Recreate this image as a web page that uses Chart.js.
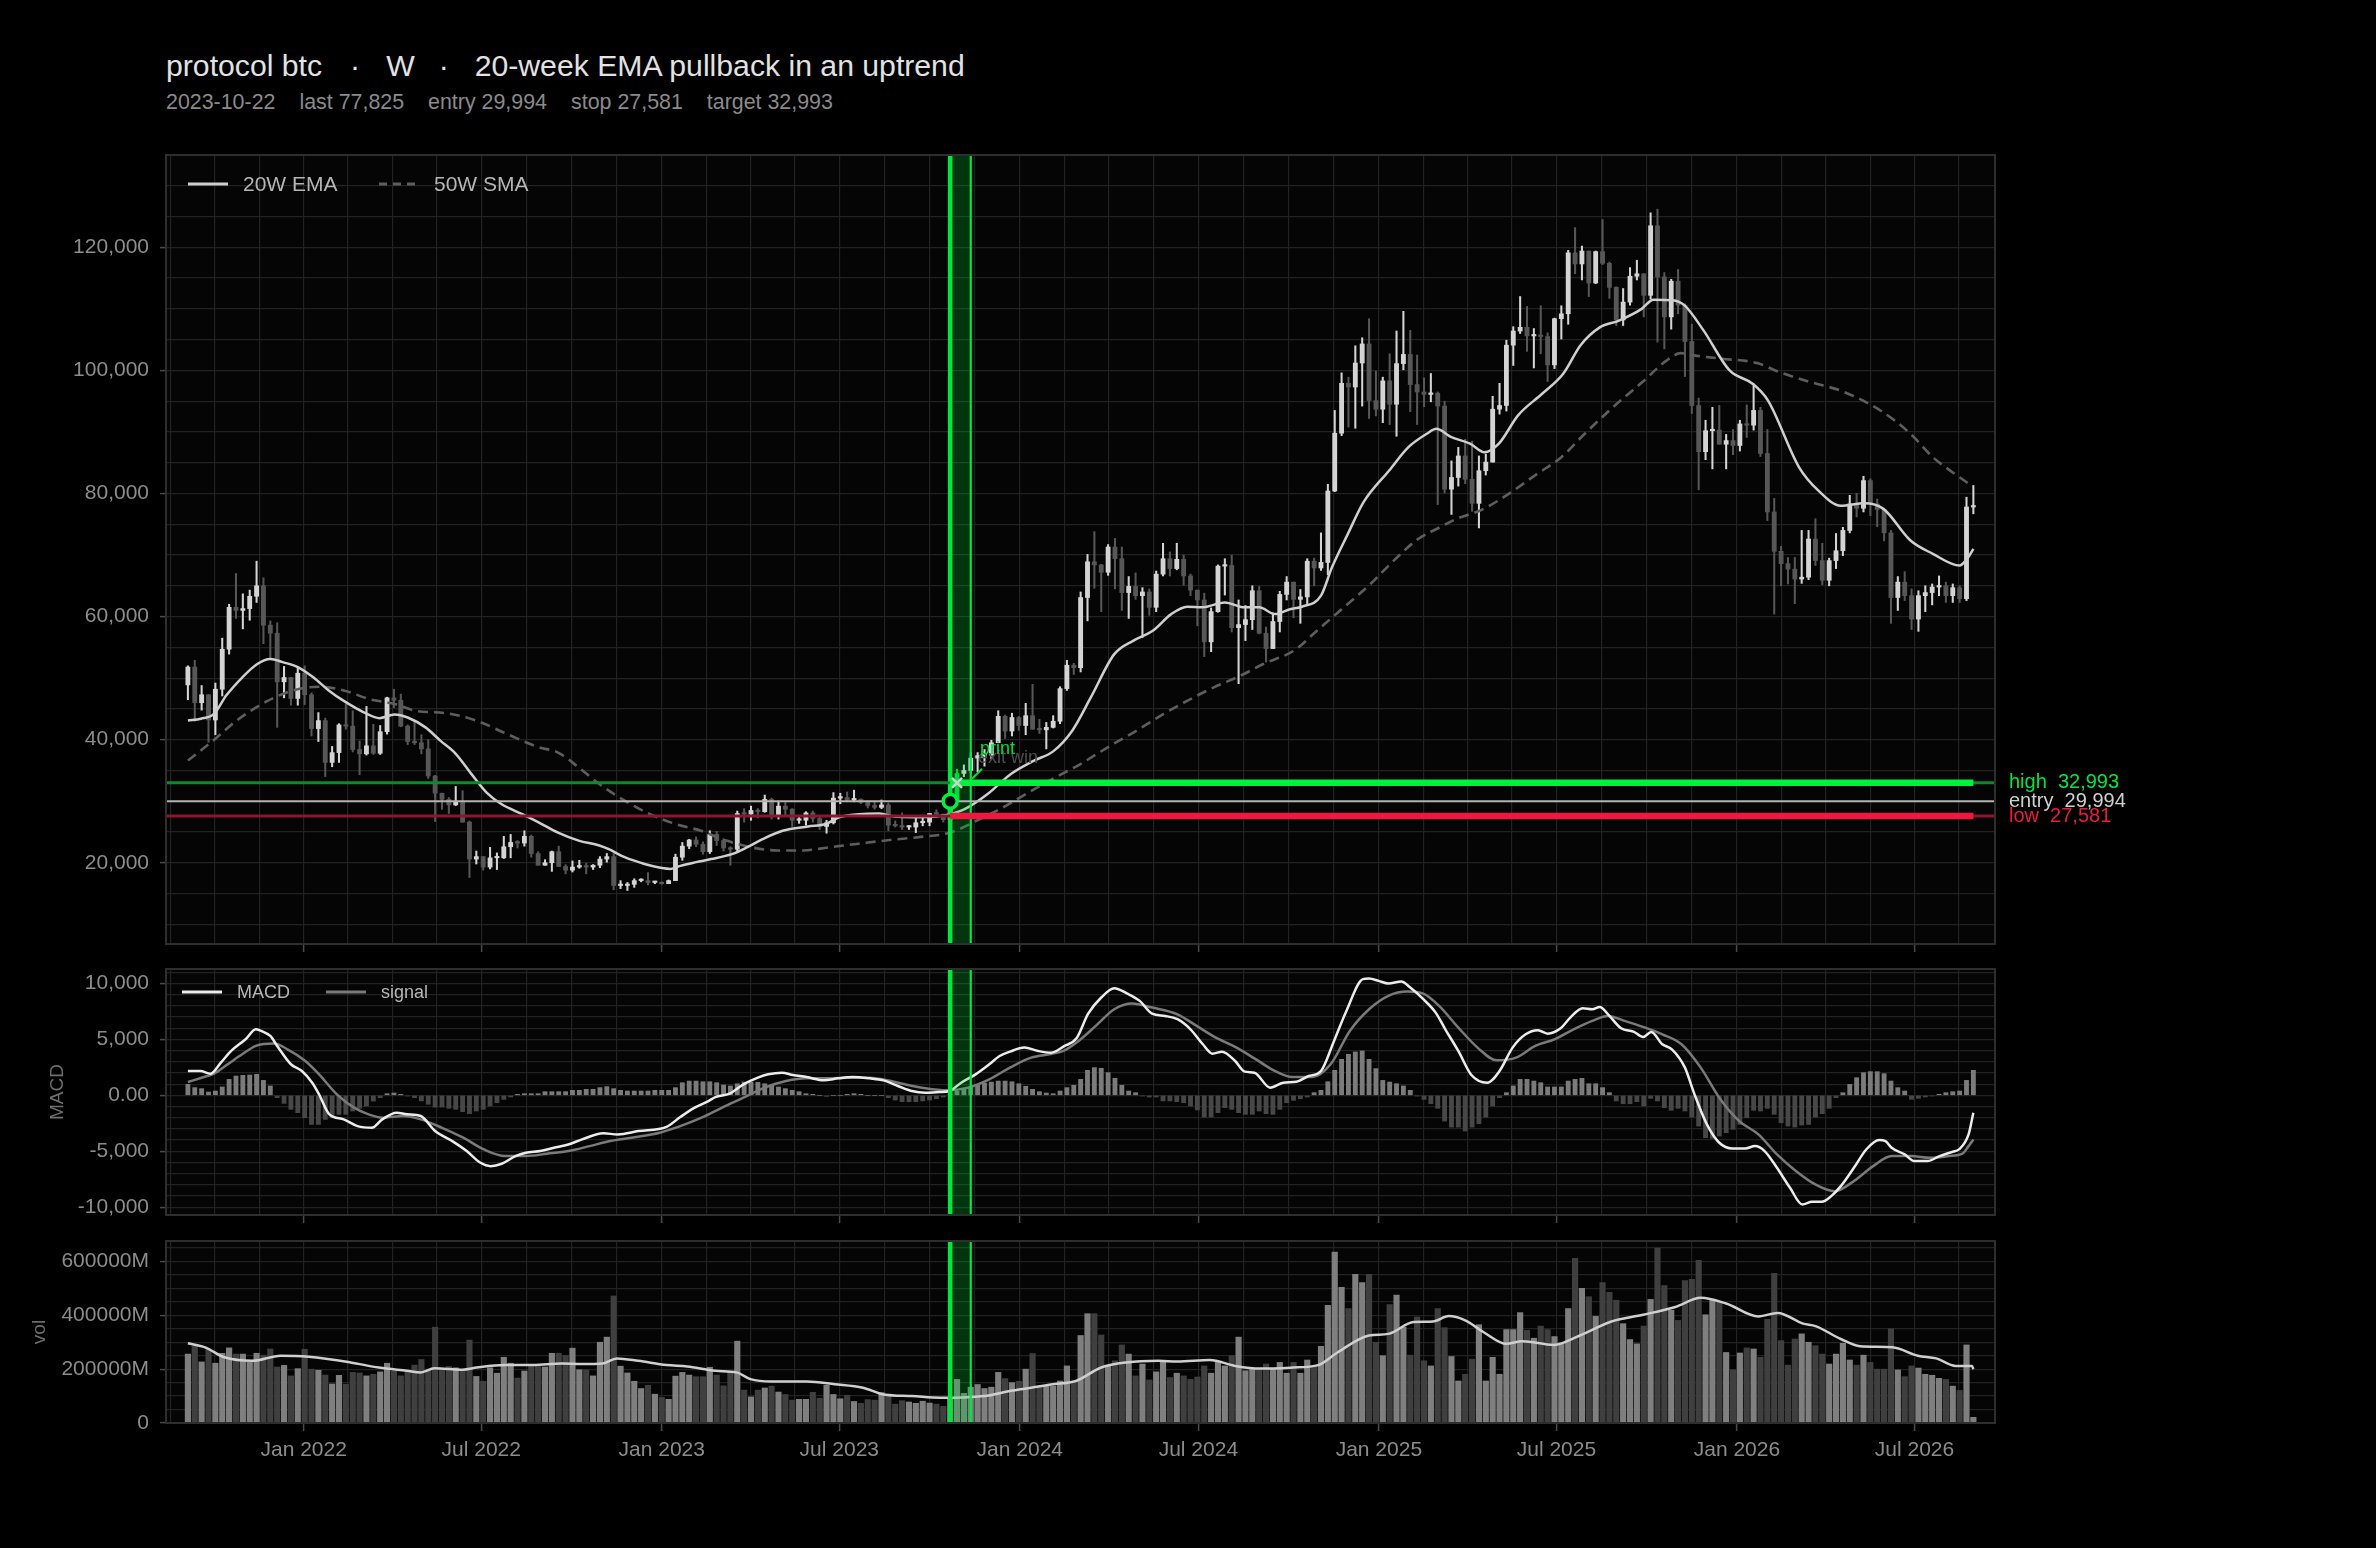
<!DOCTYPE html>
<html>
<head>
<meta charset="utf-8">
<script src="https://cdn.jsdelivr.net/npm/chart.js@4.4.1/dist/chart.umd.min.js"></script>
<style>
html, body { margin: 0; padding: 0; background: #000; }
body { width: 2376px; height: 1548px; position: relative; overflow: hidden; font-family: "Liberation Sans", Arial, sans-serif; }
#title { position: absolute; left: 166px; top: 51px; color: #e2e2e2; font-size: 30.2px; line-height: 30px; white-space: pre; }
#sub { position: absolute; left: 166px; top: 92px; color: #8a8a8a; font-size: 21.4px; line-height: 21px; white-space: pre; }
#title span, #sub span { display: inline-block; }
canvas { position: absolute; left: 0; }
</style>
</head>
<body>
<div id="title"></div>
<div id="sub"></div>
<canvas id="mainChart" width="2376" height="813" style="top:149px"></canvas>
<canvas id="macdChart" width="2376" height="268" style="top:965px"></canvas>
<canvas id="volChart" width="2376" height="262" style="top:1237px"></canvas>
<script>
// weekly candles, one per Sunday starting 2021-09-05 (prices in thousands)
const firstWeek = '2021-09-05';
const firstOpenK = 48.9;
const closeK = [
  51.8, 46.0, 47.3, 43.2, 48.2, 54.7, 61.5, 61.0, 61.3, 63.3,
  65.0, 58.6, 57.3, 49.4, 50.1, 46.7, 50.8, 47.3, 41.8, 43.1,
  36.3, 37.9, 42.4, 42.2, 38.4, 37.7, 39.0, 37.8, 41.3, 46.8,
  46.4, 42.2, 39.7, 39.5, 38.5, 34.1, 31.3, 30.3, 29.4, 29.9,
  26.6, 20.6, 21.0, 19.3, 20.8, 20.8, 22.6, 23.3, 23.2, 24.3,
  21.5, 19.6, 20.0, 21.8, 19.4, 18.8, 19.3, 19.4, 19.3, 19.6,
  20.6, 21.0, 16.3, 16.3, 16.5, 17.1, 17.1, 16.8, 16.8, 16.6,
  17.1, 20.9, 22.7, 23.7, 23.0, 21.8, 24.6, 23.6, 22.4, 22.2,
  28.0, 27.9, 28.5, 28.3, 30.3, 27.8, 29.2, 28.7, 26.9, 26.9,
  28.1, 27.2, 25.9, 26.5, 30.5, 30.6, 30.2, 30.3, 29.8, 29.3,
  29.0, 29.4, 26.1, 26.0, 25.8, 25.8, 26.5, 26.6, 28.0, 27.9,
  27.0, 29.994, 34.5, 35.0, 37.0, 37.4, 37.5, 39.5, 43.8, 41.4,
  43.6, 42.3, 43.9, 41.7, 41.6, 42.0, 43.0, 48.3, 52.1, 51.7,
  63.1, 68.9, 68.4, 67.2, 71.3, 69.4, 63.9, 64.9, 63.4, 64.0,
  61.5, 66.9, 69.4, 67.8, 69.3, 66.6, 64.3, 62.7, 55.9, 60.8,
  68.2, 68.3, 58.2, 58.7, 59.5, 64.2, 57.3, 54.8, 59.2, 63.6,
  65.6, 62.8, 63.2, 69.0, 67.9, 68.8, 80.4, 89.8, 97.9, 97.3,
  101.2, 104.3, 95.1, 93.7, 98.3, 94.5, 101.1, 102.6, 97.7, 96.5,
  96.1, 96.3, 94.2, 80.7, 82.6, 86.1, 82.3, 78.4, 83.7, 85.1,
  93.7, 94.3, 104.1, 106.4, 107.0, 105.6, 105.7, 105.5, 100.9, 108.4,
  109.2, 119.1, 117.3, 119.4, 114.2, 119.3, 117.4, 113.5, 108.2, 111.1,
  115.3, 115.7, 112.2, 123.5, 115.2, 108.7, 114.5, 110.6, 104.7, 94.3,
  86.8, 90.2, 90.3, 88.0, 88.6, 87.8, 91.3, 91.1, 93.5, 86.5,
  77.0, 70.6, 68.6, 67.7, 66.1, 66.4, 72.6, 69.1, 65.9, 69.1,
  70.7, 74.0, 78.3, 77.6, 82.1, 78.3, 77.4, 73.6, 63.1, 65.6,
  63.4, 59.6, 63.4, 63.9, 64.8, 65.0, 63.4, 64.7, 62.9, 77.8, 77.825
];
const highK = [
  52.0, 52.9, 48.8, 47.3, 49.2, 56.5, 62.0, 67.0, 63.7, 64.3,
  69.0, 66.3, 59.3, 59.0, 51.9, 50.1, 51.9, 52.0, 47.6, 44.4,
  43.5, 38.9, 42.6, 45.8, 44.7, 39.8, 45.4, 42.5, 42.3, 46.9,
  48.2, 47.4, 42.4, 42.9, 40.8, 40.0, 34.2, 31.3, 30.6, 32.4,
  31.7, 26.8, 21.9, 21.0, 22.5, 21.6, 24.3, 24.6, 23.6, 25.2,
  24.5, 21.8, 20.5, 21.9, 22.7, 19.7, 20.3, 20.4, 19.9, 19.7,
  21.0, 21.5, 21.5, 17.1, 16.8, 17.4, 17.4, 18.4, 17.0, 16.9,
  17.2, 21.4, 23.3, 23.8, 24.2, 23.4, 25.2, 25.1, 23.9, 22.6,
  28.4, 28.8, 29.2, 28.8, 31.0, 30.5, 30.0, 29.8, 28.8, 27.6,
  28.3, 28.4, 27.4, 26.9, 31.4, 31.3, 31.5, 31.8, 30.4, 30.0,
  29.9, 30.2, 29.7, 26.8, 28.1, 26.0, 27.4, 27.5, 28.0, 28.6,
  27.9, 30.3, 35.2, 35.9, 37.9, 37.9, 38.4, 39.9, 44.7, 44.0,
  44.3, 43.8, 45.9, 49.0, 43.3, 42.8, 43.9, 48.6, 52.9, 52.4,
  64.0, 70.1, 73.8, 68.5, 71.7, 72.7, 71.3, 66.5, 67.1, 64.7,
  64.5, 67.4, 71.9, 70.5, 71.9, 70.0, 66.9, 64.3, 63.8, 61.4,
  68.4, 69.4, 70.0, 62.7, 61.8, 65.0, 64.9, 58.3, 60.6, 64.1,
  66.5, 65.6, 64.4, 69.4, 69.5, 73.6, 81.5, 93.5, 99.6, 98.9,
  104.0, 105.3, 108.4, 99.9, 98.9, 102.7, 106.4, 109.6, 106.5, 102.5,
  98.8, 99.5, 96.5, 95.0, 85.3, 87.5, 88.8, 88.5, 86.1, 86.4,
  95.8, 97.9, 104.9, 107.1, 112.0, 110.4, 106.8, 110.5, 106.1, 108.5,
  110.5, 119.5, 123.2, 120.2, 119.4, 119.4, 124.5, 117.6, 113.6, 113.3,
  116.7, 117.9, 115.7, 125.6, 126.2, 115.9, 114.8, 116.4, 110.8, 107.5,
  95.5, 91.9, 94.0, 94.3, 89.6, 90.4, 91.9, 94.4, 97.8, 94.0,
  90.4, 79.2, 71.4, 69.6, 69.6, 74.0, 74.0, 75.9, 71.9, 69.5,
  73.5, 74.5, 79.7, 80.0, 82.8, 82.4, 79.1, 77.6, 74.0, 66.5,
  67.3, 64.5, 64.2, 65.0, 65.3, 66.6, 65.6, 65.3, 65.0, 79.4, 81.3
];
const lowK = [
  46.5, 43.0, 44.8, 39.6, 40.8, 47.1, 53.9, 59.7, 58.0, 59.4,
  62.3, 55.6, 53.3, 42.0, 46.8, 45.6, 45.6, 45.7, 40.6, 39.7,
  34.0, 35.6, 36.3, 41.7, 38.0, 34.3, 37.5, 37.6, 37.6, 40.9,
  45.2, 42.1, 39.2, 39.2, 37.7, 33.7, 26.7, 28.7, 28.0, 29.3,
  26.6, 17.6, 19.8, 18.8, 19.0, 18.9, 20.7, 20.8, 22.4, 22.7,
  20.9, 19.6, 19.6, 18.6, 19.4, 18.2, 18.5, 19.1, 18.2, 18.9,
  19.2, 20.1, 15.6, 15.8, 15.5, 16.0, 16.9, 16.4, 16.6, 16.5,
  16.6, 17.1, 20.4, 22.3, 22.6, 21.4, 21.5, 22.8, 21.9, 19.6,
  21.9, 26.6, 26.9, 27.3, 28.2, 27.1, 27.1, 27.7, 25.9, 26.4,
  26.1, 26.6, 25.4, 24.8, 26.3, 29.6, 29.9, 29.9, 29.6, 28.9,
  28.7, 28.8, 25.2, 25.8, 25.4, 25.4, 24.9, 26.0, 26.0, 27.3,
  26.6, 26.9, 29.9, 34.0, 34.6, 34.8, 35.7, 36.9, 39.5, 40.2,
  40.6, 41.5, 40.8, 41.7, 41.0, 38.5, 41.9, 42.6, 48.0, 50.6,
  51.0, 59.3, 64.6, 60.8, 66.7, 64.5, 61.0, 59.7, 62.8, 56.6,
  60.2, 60.8, 66.6, 66.6, 67.6, 65.1, 63.4, 58.5, 53.5, 54.3,
  60.7, 63.5, 57.5, 49.1, 56.1, 57.9, 57.2, 52.6, 54.8, 57.5,
  62.7, 59.8, 58.9, 62.0, 65.0, 67.5, 66.8, 80.3, 89.4, 90.8,
  90.6, 94.2, 92.2, 92.6, 91.5, 91.2, 89.3, 100.1, 93.3, 91.2,
  94.1, 94.9, 78.2, 80.1, 76.6, 81.2, 81.6, 77.1, 74.4, 83.0,
  85.1, 92.9, 93.4, 100.8, 106.0, 103.1, 100.4, 102.7, 98.2, 100.3,
  105.1, 107.5, 115.7, 114.7, 112.0, 114.1, 117.2, 111.7, 107.3, 107.3,
  110.6, 114.7, 108.7, 111.6, 104.6, 103.5, 106.7, 109.2, 99.0, 93.0,
  80.6, 85.5, 84.0, 88.0, 84.0, 86.3, 86.9, 89.1, 90.3, 86.0,
  75.6, 60.4, 65.0, 65.3, 62.1, 65.4, 66.0, 68.3, 65.2, 65.0,
  67.8, 69.9, 73.6, 76.2, 77.0, 76.4, 74.6, 72.3, 58.9, 61.0,
  62.6, 57.9, 57.6, 60.8, 61.9, 63.4, 62.3, 62.3, 62.3, 62.6, 76.7
];
// weekly volume, in thousands of millions
const volB = [
  256, 285, 227, 272, 222, 259, 279, 256, 256, 227,
  259, 252, 275, 208, 214, 175, 202, 274, 200, 196,
  178, 145, 177, 144, 188, 186, 175, 181, 190, 222,
  192, 175, 193, 215, 236, 200, 356, 200, 210, 205,
  197, 308, 173, 155, 205, 185, 244, 222, 167, 193,
  213, 210, 208, 259, 259, 251, 278, 198, 198, 175,
  300, 319, 472, 211, 186, 155, 128, 140, 107, 95,
  88, 174, 188, 178, 172, 172, 207, 178, 138, 190,
  304, 122, 97, 122, 130, 137, 115, 106, 85, 88,
  88, 114, 92, 140, 106, 90, 103, 80, 73, 87,
  85, 113, 108, 70, 83, 78, 73, 81, 74, 70,
  62, 95, 162, 110, 133, 143, 128, 133, 188, 165,
  150, 155, 200, 258, 135, 138, 137, 156, 212, 150,
  325, 406, 406, 327, 212, 231, 290, 256, 175, 219,
  160, 190, 227, 169, 185, 175, 162, 171, 212, 185,
  227, 212, 250, 319, 194, 200, 202, 219, 200, 225,
  185, 225, 185, 234, 212, 285, 437, 635, 504, 425,
  552, 522, 552, 300, 250, 440, 475, 356, 252, 394,
  231, 212, 425, 354, 247, 156, 181, 237, 365, 156,
  244, 181, 347, 347, 410, 344, 315, 360, 347, 321,
  297, 425, 612, 500, 469, 396, 522, 485, 456, 369,
  310, 294, 360, 459, 650, 510, 419, 381, 529, 534,
  604, 402, 460, 452, 262, 197, 260, 279, 275, 244,
  385, 556, 306, 215, 312, 331, 300, 287, 256, 219,
  256, 296, 234, 215, 252, 225, 200, 200, 350, 197,
  172, 212, 204, 181, 177, 166, 162, 137, 121, 290, 21
];
const macdHist = [
  985, 690, 600, 300, 390, 750, 1430, 1730, 1790, 1820,
  1880, 1340, 840, -210, -720, -1250, -1550, -2000, -2600, -2600,
  -2150, -2000, -1700, -1700, -1400, -1160, -950, -510, -210, 150,
  210, 90, -60, -210, -500, -800, -1050, -1050, -1160, -1250,
  -1460, -1640, -1400, -1250, -950, -660, -360, -150, 90, 150,
  150, 150, 330, 330, 330, 330, 450, 450, 540, 540,
  690, 780, 600, 450, 390, 390, 390, 390, 450, 450,
  450, 690, 1130, 1280, 1280, 1220, 1220, 1130, 925, 840,
  1040, 1190, 1190, 1160, 1040, 925, 750, 600, 450, 330,
  150, 90, 0, -90, 0, 0, 90, 150, 90, 0,
  0, 0, -210, -420, -570, -570, -570, -500, -420, -300,
  -150, 90, 390, 600, 750, 985, 1100, 1190, 1280, 1280,
  1220, 1040, 810, 540, 330, 210, 150, 390, 690, 900,
  1430, 2240, 2480, 2420, 2030, 1520, 900, 390, 240, -60,
  -150, -150, -500, -500, -570, -660, -950, -1310, -1940, -1940,
  -1550, -1100, -1250, -1550, -1700, -1700, -1400, -1640, -1700, -1250,
  -660, -450, -300, -150, 240, 450, 1220, 2240, 3220, 3670,
  3880, 3970, 3220, 2390, 1340, 1190, 1040, 840, 450, -60,
  -360, -750, -1160, -2300, -2840, -2840, -3190, -2840, -2540, -1940,
  -950, -210, 240, 840, 1430, 1430, 1280, 1130, 750, 750,
  750, 1280, 1430, 1520, 1040, 1040, 690, 240, -500, -750,
  -750, -570, -950, -270, -500, -1100, -1340, -1160, -1400, -1940,
  -2750, -3790, -3850, -3640, -3340, -3040, -2600, -2000, -1340, -1400,
  -1160, -1700, -2450, -2750, -2840, -2660, -2600, -1940, -1640, -1160,
  -210, 240, 985, 1580, 2030, 2120, 2120, 1940, 1280, 690,
  390, -360, -270, -150, -60, 90, 240, 330, 390, 1340, 2240
];
// line traces as [week, value] points
const ema20Pts = [
  [0,43.1],[1.9,43.4],[3.8,44.2],[5.6,47.2],[7.9,50.1],[10.1,52.3],[12,53.1],[13.8,52.6],[16,51.8],[18.3,50.1],
  [20.5,48.0],[22.7,46.3],[25.7,44.4],[27.9,43.5],[30.1,44.1],[32,43.6],[34.6,42.0],[36.8,39.8],[39,37.7],[41.3,34.4],
  [43.5,31.4],[45.7,29.5],[48.7,27.9],[51,26.6],[53.9,24.9],[56.9,23.6],[59.9,22.8],[61.3,22.2],[63.6,20.9],[66.5,19.8],
  [68.8,19.2],[70.3,19.0],[71.7,19.5],[74,20.1],[76.2,20.6],[79.2,21.4],[81.4,22.5],[83.6,23.8],[86.6,25.2],[90.3,25.9],
  [92.9,26.3],[94.8,27.4],[97.7,27.9],[100.7,28.0],[102.9,27.5],[105.9,27.4],[108.9,27.5],[111,27.9],[113.1,28.7],[116.5,31.2],
  [119.8,34.4],[123.2,36.6],[126,38.1],[128.8,41.5],[131.5,46.9],[134.9,53.9],[137.7,56.1],[140.5,57.7],[143.2,60.4],[145.5,61.6],
  [147.7,61.5],[151,62.3],[153.8,61.5],[156,61.5],[158.3,60.4],[160.5,61.2],[162.2,61.6],[165,63.4],[166.6,68.0],[168.9,73.4],
  [171.2,78.6],[174.9,83.7],[177.7,87.5],[180.4,89.7],[181.8,90.5],[183.9,89.2],[186.7,88.1],[188.8,86.7],[190.9,88.1],[193.7,92.7],
  [197.2,96.2],[200.3,99.5],[202.8,104.1],[205.6,107.0],[208.4,108.1],[211.7,110.0],[213.4,111.5],[216.2,111.4],[217.9,110.6],[220.7,106.5],
  [224.5,100.0],[227.9,97.8],[230.1,95.1],[234.6,84.3],[237.4,80.5],[240.7,78.0],[244.1,78.4],[246.9,77.5],[250.8,72.4],[254.1,70.2],
  [258,68.3],[259.1,69.4],[260,71.0]
];
const sma50Pts = [
  [0,36.6],[3.4,39.6],[7.1,43.1],[11.6,46.3],[15.3,48.0],[19,48.6],[22.7,48.0],[26.4,46.6],[30.1,45.8],[33.1,44.7],
  [37.6,44.3],[42,43.1],[46.5,40.9],[51,38.8],[53.9,37.9],[56.9,35.5],[59.9,32.8],[63.6,30.1],[67.3,27.9],[71,26.3],
  [74.7,25.2],[78.4,23.6],[82.1,22.5],[85.9,22.0],[89.6,22.0],[93.3,22.5],[97.7,23.1],[102.2,23.7],[106.7,24.2],[111,24.9],
  [114.8,26.8],[118.7,29.0],[122.1,31.2],[125.4,33.3],[129.9,36.0],[134.3,39.0],[138.2,41.5],[142.1,44.2],[145.5,46.3],[149.4,48.5],
  [153.3,50.4],[156.6,52.3],[161.1,54.5],[164.4,57.7],[167.8,61.0],[172.2,65.3],[175.6,69.1],[178.9,72.4],[182.3,74.5],[185,76.0],
  [188.1,77.2],[191.6,79.4],[196.5,83.2],[200,85.9],[203.4,89.7],[207.5,94.0],[211.8,98.1],[215.2,101.5],[217.4,102.8],[219.5,102.4],
  [223.4,101.9],[228.5,101.2],[231.8,99.7],[236.3,98.1],[240.7,96.7],[244.6,94.7],[248.5,91.9],[251.3,89.2],[254.1,85.9],[256.9,83.5],
  [259.7,81.3]
];
const macdPts = [
  [0,2180],[1.8,2180],[3.3,1940],[4.8,2925],[6.3,3970],[8.4,5015],[9.9,5910],[10.9,5700],[12,5310],[13,4420],
  [15,2780],[16.6,2180],[18.1,1130],[19.1,90],[20.6,-1700],[22.7,-2150],[24.7,-2750],[26.8,-2900],[28.3,-2150],[30.4,-1550],
  [31.9,-1700],[33.9,-1850],[36,-3190],[38.5,-4090],[40.6,-4980],[42.6,-6030],[44.1,-6330],[45.7,-6120],[47.7,-5430],[49.2,-5130],
  [51.3,-4980],[53.3,-4690],[55.4,-4390],[57.4,-3940],[60.5,-3400],[62.6,-3490],[65.6,-3190],[69.7,-2810],[71.7,-1940],[73.8,-1100],
  [75.8,-510],[76.8,-150],[78.9,150],[80.9,985],[83,1580],[84.5,1880],[86.5,2030],[88.1,1820],[90.1,1640],[92.6,1340],
  [94.7,1520],[96.8,1640],[99.3,1520],[101.3,1340],[103.4,840],[105.4,390],[107.4,240],[109.5,300],[110.9,390],[112.6,1130],
  [114.7,1880],[116.7,2780],[118.2,3520],[119.7,3910],[121.8,4270],[123.8,3970],[125.7,3820],[127.6,4400],[129.4,5100],[131.1,7300],
  [133,8750],[134.9,9580],[136.8,9100],[138.6,8450],[140.4,7310],[142.3,7100],[144.1,6810],[146,5910],[147.8,4570],[149.2,3730],
  [150.6,3910],[152.5,3070],[153.9,2120],[155.3,2030],[157.6,690],[159.5,1130],[161.4,1220],[163.2,1730],[165,2180],[166.9,4870],
  [168.7,7550],[171.1,10390],[172,10450],[173.4,10240],[174.8,10000],[176.7,10180],[178,9640],[179.9,8600],[181.7,7400],[183.1,5910],
  [185,3970],[186.9,1820],[189.2,1130],[191,2180],[192.9,4270],[194.8,5460],[196.6,5820],[198,5520],[199.9,6000],[201.3,6950],
  [203.1,7790],[204.5,7700],[205.6,7910],[206.8,7250],[208.7,6000],[210.5,5700],[211.9,5220],[213.1,5670],[214.7,4570],[216.1,4120],
  [218,2480],[219.3,240],[221.2,-2600],[223,-4240],[224.9,-4750],[226.8,-4750],[228.2,-4540],[229.6,-4980],[231.4,-6480],[233.3,-8270],
  [235.1,-9760],[236.5,-9520],[237.9,-9520],[239.3,-9010],[240.7,-8120],[242.6,-6480],[244.4,-4840],[246.3,-4000],[247.2,-4090],[248.1,-4690],
  [250,-5280],[251.4,-5880],[253.3,-5880],[255.1,-5430],[257,-5040],[257.9,-4840],[259.3,-3490],[260,-1550]
];
const signalPts = [
  [0,1190],[2,1580],[3.8,1940],[5.8,2780],[7.9,3670],[9.9,4420],[12.5,4630],[14.5,4120],[17.1,3070],[19.1,1880],
  [21.7,90],[24.2,-1100],[26.3,-1700],[28.3,-2000],[31.4,-1850],[33.9,-2150],[37,-2900],[40.1,-3790],[43.1,-4840],[46.2,-5430],
  [49.2,-5430],[52.3,-5220],[55.4,-4980],[58.5,-4540],[61.5,-4090],[64.6,-3790],[68.7,-3340],[71.7,-2750],[74.8,-2000],[77.8,-1100],
  [80.9,-210],[84,690],[87.1,1280],[90.1,1520],[93.2,1520],[96.2,1580],[99.3,1580],[101.3,1430],[104.4,985],[107.4,630],
  [110.5,450],[113.6,690],[116.7,1430],[119.7,2480],[122.8,3370],[125.7,3700],[127.5,3970],[129.4,4720],[132.2,6210],[134.9,7700],
  [137.5,8210],[140.4,7850],[144.1,7250],[146.9,6210],[149.7,5160],[152.5,4330],[155.3,3310],[158.1,2240],[160.8,1640],[163.7,1640],
  [166.4,2780],[169.2,5760],[172,7700],[174.8,8900],[177.6,9280],[179.9,9100],[182.2,8000],[185,6060],[187.8,4270],[190.6,3130],
  [193.4,3370],[196.2,4420],[199,5015],[201.8,5910],[204.5,6660],[206.8,7100],[209.2,6660],[211.9,6120],[214.7,5460],[217.5,4570],
  [220.3,2480],[223,-210],[225.9,-2300],[228.7,-3490],[231.4,-5280],[234.2,-6780],[237,-7970],[239.8,-8570],[242.6,-7670],[245.4,-6330],
  [248.1,-5430],[250.9,-5430],[253.7,-5580],[256.5,-5430],[258.4,-5220],[259.3,-4540],[260,-3940]
];
const volMaPts = [
  [0,296],[2.5,281],[5.3,244],[9.4,231],[13.5,250],[17.6,246],[23.7,225],[27.8,206],[31.9,194],[33.9,188],
  [35.9,203],[40,198],[42.1,206],[46.2,215],[50.3,215],[54.4,221],[57.4,219],[60.4,221],[62.5,240],[65.6,231],
  [69.7,215],[72.7,210],[76.8,194],[79.9,188],[81.9,163],[85,154],[90.1,154],[94.2,144],[98.3,131],[101.3,106],
  [105.4,100],[109.5,94],[113.6,96],[116.6,102],[119.7,119],[122.8,131],[125.7,143],[129.3,156],[133,206],[136.7,225],
  [141.3,231],[144.1,228],[148.8,234],[152.5,212],[156.2,202],[160.9,206],[164.6,215],[167.4,262],[172,325],[174.8,331],
  [178.5,375],[181.3,377],[183.6,397],[186,381],[188.7,337],[192,294],[194.3,304],[198.9,290],[202.7,325],[207.3,377],
  [211.9,402],[216.6,431],[220.3,465],[224,444],[228.7,396],[231.5,409],[235.2,369],[237,360],[240.7,312],[243.5,285],
  [248.2,281],[251.9,250],[254.6,240],[257.4,212],[259.8,212],[260,200]
];

// trade
const entryWeek = 111, exitWeek = 112, bandEndWeek = 114;
const entryPrice = 29994, stopPrice = 27581, targetPrice = 32993, lastPrice = 77825;
const entryDate = '2023-10-22';

const xTickDates = ['2022-01-01', '2022-07-01', '2023-01-01', '2023-07-01', '2024-01-01',
                    '2024-07-01', '2025-01-01', '2025-07-01', '2026-01-01', '2026-07-01'];
const xTickLabels = ['Jan 2022', 'Jul 2022', 'Jan 2023', 'Jul 2023', 'Jan 2024',
                     'Jul 2024', 'Jan 2025', 'Jul 2025', 'Jan 2026', 'Jul 2026'];

// ---------------------------------------------------------------------------

Chart.defaults.font.family = '"Liberation Sans", Arial, sans-serif';
Chart.defaults.color = '#8c8c8c';

const fmt = n => n.toLocaleString('en-US');

document.getElementById('title').innerHTML =
  '<span style="margin-right:28px">protocol btc</span><span style="margin-right:26px">·</span>' +
  '<span style="margin-right:24px">W</span><span style="margin-right:26px">·</span>' +
  '<span>20-week EMA pullback in an uptrend</span>';
document.getElementById('sub').innerHTML = [
  entryDate, 'last ' + fmt(lastPrice), 'entry ' + fmt(entryPrice),
  'stop ' + fmt(stopPrice), 'target ' + fmt(targetPrice)
].map(s => '<span style="margin-right:24px">' + s + '</span>').join('');

const weeks = closeK.map((c, i) => i);
const openK = closeK.map((c, i) => i === 0 ? firstOpenK : closeK[i - 1]);
const isUp = closeK.map((c, i) => c >= openK[i]);

const X_MIN = -3.19, X_MAX = 263.15;
const DAY = 864e5;
const t0 = Date.parse(firstWeek + 'T00:00:00Z');
const toWeek = d => (Date.parse(d + 'T00:00:00Z') - t0) / (7 * DAY);
const majorW = xTickDates.map(toWeek);

// grid: each half-year split in four
const gridW = [];
(function () {
  const s0 = (majorW[1] - majorW[0]) / 4;
  for (let v = majorW[0] - s0; v > X_MIN + 0.3; v -= s0) gridW.push(v);
  majorW.forEach((m, k) => {
    gridW.push(m);
    const st = k < majorW.length - 1 ? (majorW[k + 1] - m) / 4 : (m - majorW[k - 1]) / 4;
    for (let j = 1; j < 4; j++) {
      const v = m + st * j;
      if (v < X_MAX - 0.3) gridW.push(v);
    }
  });
  gridW.sort((a, b) => a - b);
})();
const majorIdx = v => majorW.findIndex(m => Math.abs(m - v) < 1e-6);

const GRID = '#222222';
const TICK = '#4a4a4a';

function xAxis(showLabels, height) {
  return {
    type: 'linear', min: X_MIN, max: X_MAX, offset: false,
    grid: {
      offset: false, color: GRID, lineWidth: 1.2, tickLength: 8, tickWidth: 1.5,
      tickColor: ctx => majorIdx(ctx.tick.value) >= 0 ? TICK : 'rgba(0,0,0,0)'
    },
    border: { display: false },
    ticks: {
      display: showLabels, autoSkip: false, maxRotation: 0, padding: 7,
      font: { size: 21 }, color: '#8c8c8c',
      callback: v => { const k = majorIdx(v); return k >= 0 ? xTickLabels[k] : ''; }
    },
    afterBuildTicks: s => { s.ticks = gridW.map(v => ({ value: v })); },
    afterFit: s => { s.height = height; s.paddingLeft = 0; s.paddingRight = 0; }
  };
}

function yAxis(min, max, step, isMajor, label) {
  return {
    type: 'linear', min: min, max: max, beginAtZero: false,
    grid: {
      color: GRID, lineWidth: 1.2, tickLength: 6, tickWidth: 1.5,
      tickColor: ctx => isMajor(ctx.tick.value) ? TICK : 'rgba(0,0,0,0)'
    },
    border: { display: false },
    ticks: {
      autoSkip: false, padding: 11, font: { size: 21 }, color: '#8c8c8c',
      callback: v => isMajor(v) ? label(v) : ''
    },
    afterBuildTicks: s => {
      const t = [];
      for (let v = Math.ceil(min / step) * step; v <= max; v += step) t.push({ value: v });
      s.ticks = t;
    },
    afterFit: s => { s.width = 166; s.paddingTop = 0; s.paddingBottom = 0; }
  };
}

const BAND_FILL = 'rgba(0, 225, 60, 0.22)';
const GREEN = '#00f040';
const RED = '#f0173f';

function panelDeco(extra) {
  return {
    id: 'panelDeco',
    beforeDraw(chart) {
      const { ctx, chartArea: a } = chart;
      ctx.save();
      ctx.fillStyle = '#050505';
      ctx.fillRect(a.left, a.top, a.right - a.left, a.bottom - a.top);
      ctx.restore();
    },
    afterDatasetsDraw(chart) {
      const { ctx, chartArea: a, scales } = chart;
      const x0 = scales.x.getPixelForValue(entryWeek);
      const x1 = scales.x.getPixelForValue(bandEndWeek);
      ctx.save();
      ctx.fillStyle = BAND_FILL;
      ctx.fillRect(x0, a.top, x1 - x0, a.bottom - a.top);
      ctx.strokeStyle = '#00e83c';
      ctx.lineWidth = 4.5;
      ctx.beginPath(); ctx.moveTo(x0, a.top); ctx.lineTo(x0, a.bottom); ctx.stroke();
      ctx.lineWidth = 2.2;
      ctx.beginPath(); ctx.moveTo(x1, a.top); ctx.lineTo(x1, a.bottom); ctx.stroke();
      ctx.restore();
      if (extra && extra.afterDatasets) extra.afterDatasets(chart);
    },
    afterDraw(chart) {
      const { ctx, chartArea: a } = chart;
      ctx.save();
      ctx.strokeStyle = '#2e2e2e';
      ctx.lineWidth = 2;
      ctx.strokeRect(a.left, a.top, a.right - a.left, a.bottom - a.top);
      ctx.restore();
      if (extra && extra.after) extra.after(chart);
    }
  };
}

function legendItem(ctx, x, y, text, color, dash, size) {
  ctx.save();
  ctx.strokeStyle = color;
  ctx.lineWidth = 3;
  ctx.setLineDash(dash || []);
  ctx.beginPath(); ctx.moveTo(x, y); ctx.lineTo(x + 40, y); ctx.stroke();
  ctx.setLineDash([]);
  ctx.fillStyle = '#b5b5b5';
  ctx.font = size + 'px "Liberation Sans", Arial, sans-serif';
  ctx.textBaseline = 'middle';
  ctx.fillText(text, x + 55, y + 1);
  ctx.restore();
}

function axisTitle(ctx, text, x, y) {
  ctx.save();
  ctx.translate(x, y);
  ctx.rotate(-Math.PI / 2);
  ctx.fillStyle = '#6e6e6e';
  ctx.font = '19px "Liberation Sans", Arial, sans-serif';
  ctx.textAlign = 'center';
  ctx.textBaseline = 'middle';
  ctx.fillText(text, 0, 0);
  ctx.restore();
}

const lineStyle = { type: 'line', pointRadius: 0, cubicInterpolationMode: 'monotone', fill: false };
const pts = (arr, k) => arr.map(p => ({ x: p[0], y: p[1] * k }));

// ---------------- price panel ----------------
const candleColor = weeks.map(i => i === exitWeek ? '#00d63c' : (isUp[i] ? '#d4d4d4' : '#575757'));

new Chart(document.getElementById('mainChart'), {
  type: 'bar',
  data: {
    datasets: [
      { label: 'wick', data: weeks.map(i => ({ x: i, y: [lowK[i] * 1000, highK[i] * 1000] })),
        backgroundColor: candleColor, barThickness: 1.4, grouped: false, order: 3 },
      { label: 'body', data: weeks.map(i => ({ x: i, y: [openK[i] * 1000, closeK[i] * 1000] })),
        backgroundColor: candleColor, barThickness: 4.2, minBarLength: 1.5, grouped: false, order: 2 },
      Object.assign({ label: '20W EMA', data: pts(ema20Pts, 1000), borderColor: '#cfcfcf', borderWidth: 2.5, order: 1 }, lineStyle),
      Object.assign({ label: '50W SMA', data: pts(sma50Pts, 1000), borderColor: '#5e5e5e', borderWidth: 2.6,
        borderDash: [10, 6], order: 1 }, lineStyle)
    ]
  },
  options: {
    responsive: false, animation: false, devicePixelRatio: 1,
    layout: { padding: { left: 0, right: 381, top: 6, bottom: 0 } },
    plugins: { legend: { display: false }, tooltip: { enabled: false } },
    scales: {
      x: xAxis(false, 18),
      y: yAxis(6800, 135000, 5000, v => v % 20000 === 0, v => fmt(v))
    }
  },
  plugins: [panelDeco({
    afterDatasets(chart) {
      const { ctx, chartArea: a, scales } = chart;
      const X = v => scales.x.getPixelForValue(v);
      const Y = v => scales.y.getPixelForValue(v);
      const xe = X(entryWeek), xl = X(weeks.length - 1);
      ctx.save();
      const hline = (y, x0, x1, c, w) => {
        ctx.strokeStyle = c; ctx.lineWidth = w;
        ctx.beginPath(); ctx.moveTo(x0, y); ctx.lineTo(x1, y); ctx.stroke();
      };
      // thin full-width levels
      hline(Y(targetPrice), a.left, a.right, '#0c8a2c', 3);
      hline(Y(stopPrice), a.left, a.right, '#8e1430', 3);
      hline(Y(entryPrice), a.left, a.right, '#b3b3b3', 2);
      // live trade levels
      hline(Y(targetPrice), xe, xl, GREEN, 6.5);
      hline(Y(stopPrice), xe, xl, RED, 6.5);
      // exit marker + labels
      const xx = X(exitWeek), yx = Y(targetPrice);
      ctx.font = '18px "Liberation Sans", Arial, sans-serif';
      ctx.fillStyle = '#4d4d4d';
      ctx.fillText('exit win', xx + 21, yx - 20);
      ctx.fillStyle = '#00e03c';
      ctx.fillText('print', xx + 23, yx - 29);
      ctx.strokeStyle = '#00e03c'; ctx.lineWidth = 2;
      ctx.beginPath(); ctx.moveTo(xx + 15, yx - 4); ctx.lineTo(xx + 25, yx - 14); ctx.stroke();
      ctx.strokeStyle = '#d0d0d0'; ctx.lineWidth = 2.5;
      ctx.beginPath();
      ctx.moveTo(xx - 5, yx - 5); ctx.lineTo(xx + 5, yx + 5);
      ctx.moveTo(xx + 5, yx - 5); ctx.lineTo(xx - 5, yx + 5);
      ctx.stroke();
      // entry marker
      ctx.beginPath();
      ctx.arc(xe, Y(entryPrice), 7, 0, Math.PI * 2);
      ctx.fillStyle = '#000'; ctx.fill();
      ctx.strokeStyle = GREEN; ctx.lineWidth = 3.5; ctx.stroke();
      // right-hand level labels
      ctx.font = '20px "Liberation Sans", Arial, sans-serif';
      ctx.textBaseline = 'middle';
      ctx.fillStyle = '#00e640'; ctx.fillText('high  ' + fmt(targetPrice), a.right + 14, Y(targetPrice));
      ctx.fillStyle = '#cfcfcf'; ctx.fillText('entry  ' + fmt(entryPrice), a.right + 14, Y(entryPrice));
      ctx.fillStyle = '#ea1a42'; ctx.fillText('low  ' + fmt(stopPrice), a.right + 14, Y(stopPrice));
      ctx.restore();
    },
    after(chart) {
      const { ctx, chartArea: a } = chart;
      legendItem(ctx, a.left + 22, a.top + 29, '20W EMA', '#cfcfcf', null, 21);
      legendItem(ctx, a.left + 213, a.top + 29, '50W SMA', '#5e5e5e', [8, 6], 21);
    }
  })]
});

// ---------------- MACD panel ----------------
new Chart(document.getElementById('macdChart'), {
  type: 'bar',
  data: {
    datasets: [
      { label: 'hist', data: weeks.map(i => ({ x: i, y: macdHist[i] })),
        backgroundColor: macdHist.map(v => v >= 0 ? '#7b7b7b' : '#474747'),
        barThickness: 4.2, grouped: false, order: 2 },
      Object.assign({ label: 'signal', data: pts(signalPts, 1), borderColor: '#7a7a7a', borderWidth: 2.5, order: 1 }, lineStyle),
      Object.assign({ label: 'MACD', data: pts(macdPts, 1), borderColor: '#ececec', borderWidth: 2.5, order: 0 }, lineStyle)
    ]
  },
  options: {
    responsive: false, animation: false, devicePixelRatio: 1,
    layout: { padding: { left: 0, right: 381, top: 4, bottom: 0 } },
    plugins: { legend: { display: false }, tooltip: { enabled: false } },
    scales: {
      x: xAxis(false, 18),
      y: yAxis(-10700, 11300, 1000, v => v % 5000 === 0, v => v === 0 ? '0.00' : fmt(v))
    }
  },
  plugins: [panelDeco({
    after(chart) {
      const { ctx, chartArea: a } = chart;
      legendItem(ctx, a.left + 16, a.top + 23, 'MACD', '#ececec', null, 18);
      legendItem(ctx, a.left + 160, a.top + 23, 'signal', '#7a7a7a', null, 18);
      axisTitle(ctx, 'MACD', 58, (a.top + a.bottom) / 2);
    }
  })]
});

// ---------------- volume panel ----------------
new Chart(document.getElementById('volChart'), {
  type: 'bar',
  data: {
    datasets: [
      { label: 'vol', data: weeks.map(i => ({ x: i, y: volB[i] })),
        backgroundColor: weeks.map(i => isUp[i] ? '#7f7f7f' : '#3f3f3f'),
        barThickness: 5.5, grouped: false, order: 2 },
      Object.assign({ label: 'vol ma', data: pts(volMaPts, 1), borderColor: '#cfcfcf', borderWidth: 2.5, order: 1 }, lineStyle)
    ]
  },
  options: {
    responsive: false, animation: false, devicePixelRatio: 1,
    layout: { padding: { left: 0, right: 381, top: 4, bottom: 0 } },
    plugins: { legend: { display: false }, tooltip: { enabled: false } },
    scales: {
      x: xAxis(true, 76),
      y: yAxis(0, 676, 50, v => v % 200 === 0, v => v === 0 ? '0' : (v * 1000) + 'M')
    }
  },
  plugins: [panelDeco({
    after(chart) {
      const { ctx, chartArea: a } = chart;
      axisTitle(ctx, 'vol', 40, (a.top + a.bottom) / 2);
    }
  })]
});
</script>
</body>
</html>
